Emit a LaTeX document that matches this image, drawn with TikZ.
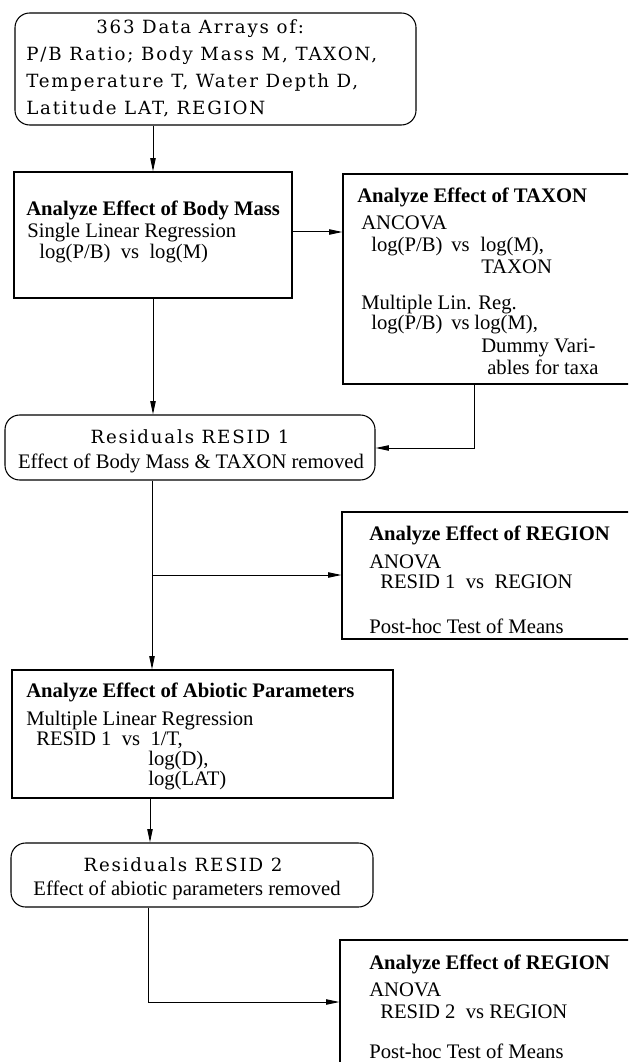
\documentclass[tikz,border=0pt]{standalone}
\usepackage{fontspec}
\setmainfont{Liberation Serif}
\newfontfamily\spacedfont[LetterSpace=10]{DejaVu Serif}
\usetikzlibrary{arrows.meta,fit}
\begin{document}
\begin{tikzpicture}[x=0.75pt,y=-0.75pt,
  box/.style={draw, line width=0.8pt, inner sep=0pt},
  rbox/.style={box, rounded corners=11pt},
  arr/.style={line width=0.75pt, -{Triangle[length=10pt,width=4pt]}},
  txt/.style={anchor=base west, inner sep=0pt, font=\fontsize{15.5}{18}\selectfont},
  hd/.style={txt, font=\fontsize{15.5}{18}\selectfont\bfseries},
  sp/.style={txt, font=\fontsize{13.65}{16}\selectfont\spacedfont},
]
\useasboundingbox (0,0) rectangle (628,1062);
\fill[white] (0,0) rectangle (628,1062);
\clip (0,0) rectangle (628,1062);

% boxes
\node[rbox, fit={(15,13) (416,125)}] (top) {};
\node[box, fit={(14,172) (292,298)}] (body) {};
\node[box, fit={(343,174) (660,384)}] (taxon) {};
\node[rbox, fit={(5,415) (375,480)}] (resid1) {};
\node[box, fit={(342,512) (660,639)}] (region1) {};
\node[box, fit={(12,670) (393,798)}] (abiotic) {};
\node[rbox, fit={(11,843) (373,907)}] (resid2) {};
\node[box, fit={(340,940) (660,1090)}] (region2) {};

% top box text
\node[sp] (t1) at (96,34) {363 Data Arrays of:};
\node[sp] (t2) at (26,61) {P/B Ratio; Body Mass M, TAXON,};
\node[sp] (t3) at (26,88) {Temperature T, Water Depth D,};
\node[sp] (t4) at (26,115) {Latitude LAT, REGION};

% body mass
\node[hd] (b1) at (26,216) {Analyze Effect of Body Mass};
\node[txt] (b2) at (27,238) {Single Linear Regression};
\node[txt] (b3) at (39,259) {log(P/B)\ \ vs\ \ log(M)};

% taxon
\node[hd] (x1) at (357,203) {Analyze Effect of TAXON};
\node[txt] (x2) at (361,230) {ANCOVA};
\node[txt] (x3a) at (371,252) {log(P/B)};
\node[txt] (x3b) at (451,252) {vs};
\node[txt] (x3c) at (480,252) {log(M),};
\node[txt] (x4) at (481,273) {TAXON};
\node[txt] (x5) at (361,309) {Multiple Lin. Reg.};
\node[txt] (x6a) at (371,329) {log(P/B)};
\node[txt] (x6b) at (451,329) {vs};
\node[txt] (x6c) at (474,329) {log(M),};
\node[txt] (x7) at (481,352) {Dummy Vari-};
\node[txt] (x8) at (487,374) {ables for taxa};

% resid 1
\node[sp, anchor=base] (r1) at (190,443) {Residuals RESID 1};
\node[txt, anchor=base] (r2) at (191,468) {Effect of Body Mass \& TAXON removed};

% region 1
\node[hd] (g1) at (369,540) {Analyze Effect of REGION};
\node[txt] (g2) at (369,568) {ANOVA};
\node[txt] (g3) at (380,588) {RESID 1\ \ vs\ \ REGION};
\node[txt] (g4) at (369,633) {Post-hoc Test of Means};

% abiotic
\node[hd] (a1) at (26,697) {Analyze Effect of Abiotic Parameters};
\node[txt] (a2) at (26,725) {Multiple Linear Regression};
\node[txt] (a3) at (36,745) {RESID 1\ \ vs\ \ 1/T,};
\node[txt] (a4) at (148,765) {log(D),};
\node[txt] (a5) at (148,785) {log(LAT)};

% resid 2
\node[sp, anchor=base] (s1) at (183,871) {Residuals RESID 2};
\node[txt, anchor=base] (s2) at (187,895) {Effect of abiotic parameters removed};

% region 2
\node[hd] (h1) at (369,969) {Analyze Effect of REGION};
\node[txt] (h2) at (369,996) {ANOVA};
\node[txt] (h3) at (380,1018) {RESID 2\ \ vs REGION};
\node[txt] (h4) at (369,1058) {Post-hoc Test of Means};

% connectors
\coordinate (v1) at (153,0);
\coordinate (h1c) at (0,232);
\coordinate (v2) at (474,0);
\coordinate (h2c) at (0,448);
\coordinate (v3) at (152,0);
\coordinate (j1) at (152,575);
\coordinate (v4) at (150,0);
\coordinate (v5) at (148,0);
\coordinate (h5c) at (0,1002);

\draw[arr] (top.south -| v1) -- (body.north -| v1);
\draw[arr] (body.east |- h1c) -- (taxon.west |- h1c);
\draw[arr] (body.south -| v1) -- (resid1.north -| v1);
\draw[arr] (taxon.south -| v2) |- (resid1.east |- h2c);
\draw[arr] (resid1.south -| v3) -- (abiotic.north -| v3);
\draw[arr] (j1) -- (region1.west |- j1);
\draw[arr] (abiotic.south -| v4) -- (resid2.north -| v4);
\draw[arr] (resid2.south -| v5) |- (region2.west |- h5c);
\end{tikzpicture}
\end{document}
